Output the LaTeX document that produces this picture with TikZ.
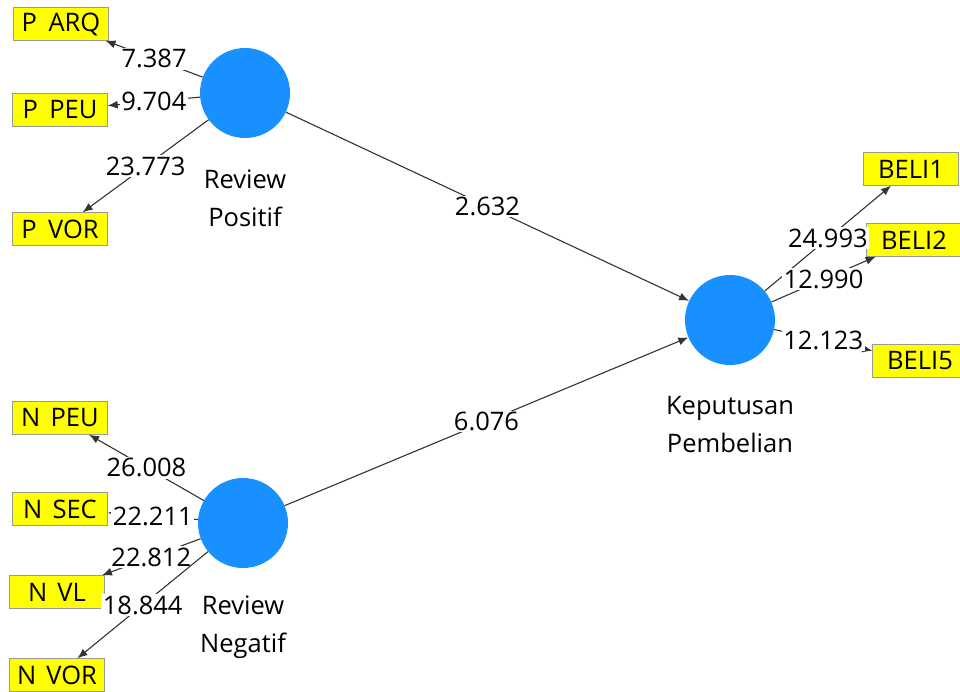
\documentclass[tikz,border=0pt]{standalone}
\usepackage{fontspec}
\setmainfont{Open Sans}
\usetikzlibrary{arrows.meta}

\definecolor{latentblue}{RGB}{24,144,255}
\definecolor{itemyellow}{RGB}{255,255,0}

\begin{document}
\begin{tikzpicture}
		[x=1pt,y=-1pt,
		every node/.style={font=\fontsize{25.5}{38}\selectfont},
		latentnode/.style={circle, fill=latentblue, minimum size=90pt, inner sep=0pt},
		itemnode/.style={rectangle, draw=black!40, fill=itemyellow, minimum width=95pt, minimum height=33pt, inner sep=0pt},
		namenode/.style={align=center, inner sep=0pt},
		valuenode/.style={fill=white, inner sep=1.5pt},
		link/.style={draw=black!80, line width=1.1pt, -{Latex[length=10pt,width=8pt]}},
		]
		\useasboundingbox (0,0) rectangle (960,691);
		\clip (0,0) rectangle (960,691);
		
		%Nodes
		\node[latentnode](reviewpositif) at (245,93) {};
		\node[latentnode](reviewnegatif) at (243,523) {};
		\node[latentnode](keputusan) at (730,320) {};
		\node[namenode](positifname) at (245,198) {Review\\Positif};
		\node[namenode](negatifname) at (243,627) {Review\\Negatif};
		\node[namenode](keputusanname) at (730,425) {Keputusan\\Pembelian};
		
		\node[itemnode](parq) at (61,24) {P\hspace{.45em}ARQ};
		\node[itemnode](ppeu) at (60,110) {P\hspace{.45em}PEU};
		\node[itemnode](pvor) at (60,229) {P\hspace{.45em}VOR};
		\node[itemnode](npeu) at (60,418) {N\hspace{.4em}PEU};
		\node[itemnode](nsec) at (60,509) {N\hspace{.4em}SEC};
		\node[itemnode](nvl) at (57,592) {N\hspace{.4em}VL};
		\node[itemnode](nvor) at (57,675) {N\hspace{.4em}VOR};
		\node[itemnode](beli1) at (911,169) {BELI1};
		\node[itemnode](beli2) at (914,240) {BELI2};
		\node[itemnode](beli5) at (920,361) {BELI5};
		
		%Lines
		\draw[link](reviewpositif) -- node[valuenode]{2.632} (keputusan);
		\draw[link](reviewnegatif) -- node[valuenode]{6.076} (keputusan);
		
		\draw[link](reviewpositif) -- node[valuenode]{7.387} (parq);
		\draw[link](reviewpositif) -- node[valuenode]{9.704} (ppeu);
		\draw[link](reviewpositif) -- node[valuenode]{23.773} (pvor);
		
		\draw[link](reviewnegatif) -- node[valuenode]{26.008} (npeu);
		\draw[link](reviewnegatif) -- node[valuenode]{22.211} (nsec);
		\draw[link](reviewnegatif) -- node[valuenode]{22.812} (nvl);
		\draw[link](reviewnegatif) -- node[valuenode]{18.844} (nvor);
		
		\draw[link](keputusan) -- node[valuenode]{24.993} (beli1);
		\draw[link](keputusan) -- node[valuenode]{12.990} (beli2);
		\draw[link](keputusan) -- node[valuenode]{12.123} (beli5);
	\end{tikzpicture}
\end{document}
